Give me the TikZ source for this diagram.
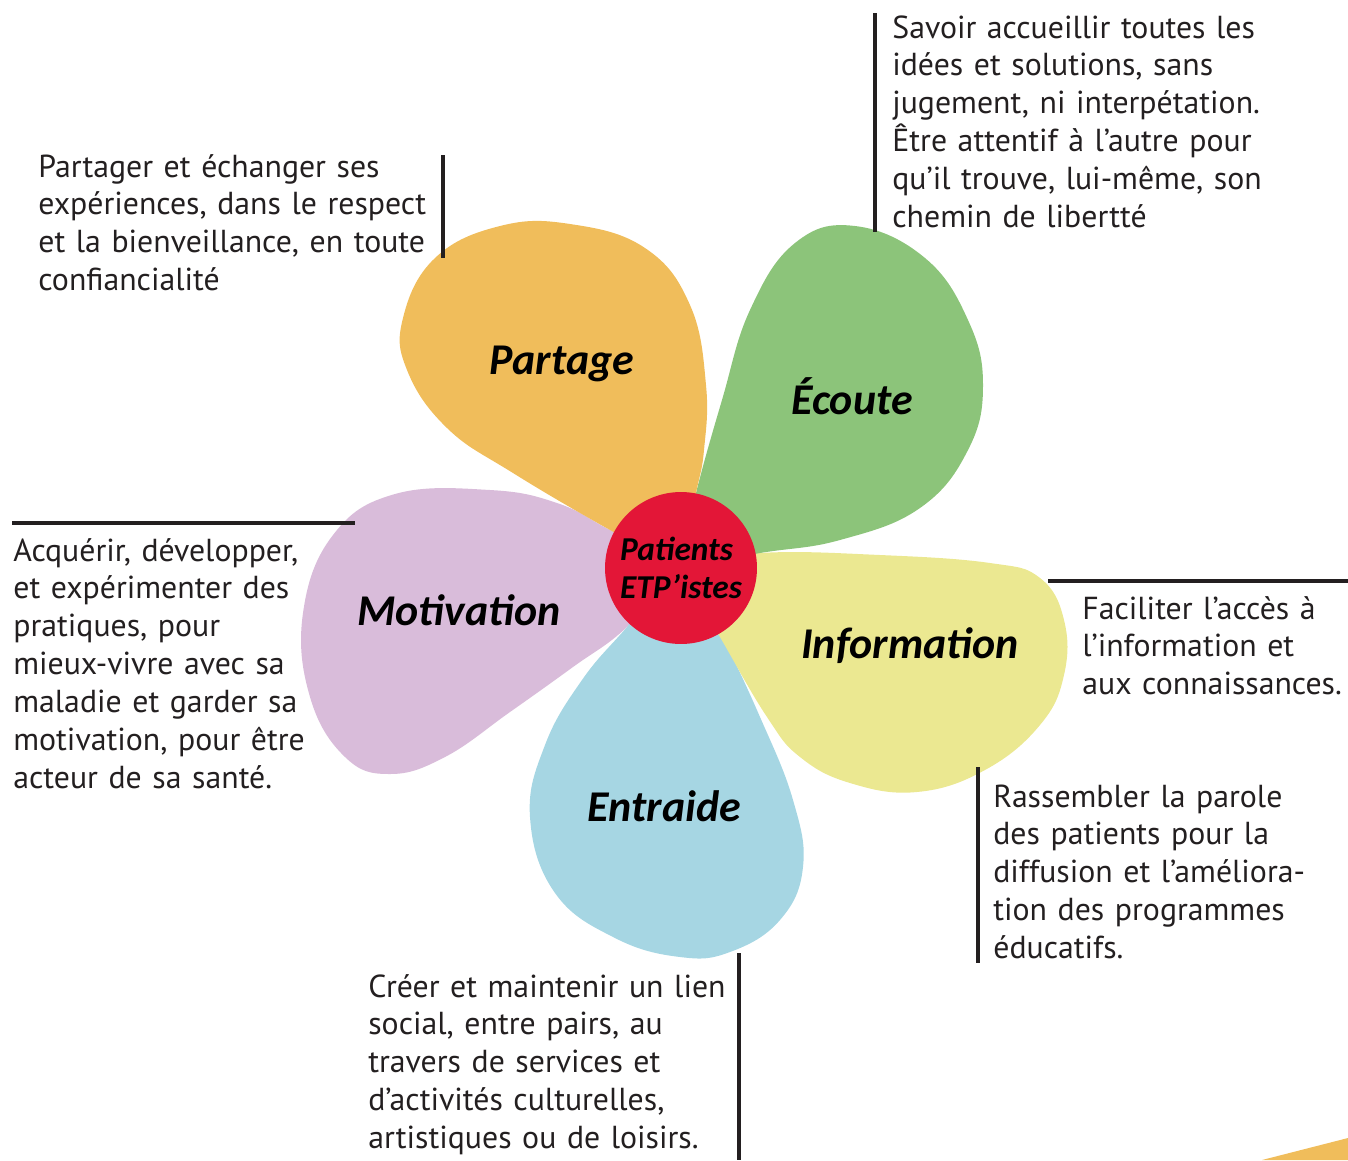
\documentclass[tikz,border=0pt]{standalone}
\usepackage{fontspec}
\setmainfont{PT Sans}
\newfontfamily\petalfont{Carlito}
\usetikzlibrary{positioning}
\tikzset{>=latex}
\definecolor{partagecol}{HTML}{F0BD5B}
\definecolor{ecoutecol}{HTML}{8CC47A}
\definecolor{infocol}{HTML}{EBE891}
\definecolor{entraidecol}{HTML}{A6D6E3}
\definecolor{motivcol}{HTML}{D9BCDA}
\definecolor{coeurred}{HTML}{E31637}
\definecolor{textgray}{HTML}{231F20}

\begin{document}
\begin{tikzpicture}[x=0.02cm,y=-0.02cm,
    petal label/.style={font=\petalfont\bfseries\itshape\fontsize{25}{29}\selectfont},
    blurb/.style={anchor=base west, inner sep=0pt, text width=9cm, align=left,
        text=textgray, font=\fontsize{18.1}{21.6}\selectfont},
    rule/.style={line width=2pt, textgray}]
    \useasboundingbox (0,0) rectangle (1348,1160);

    \fill[motivcol] plot[smooth cycle, tension=0.7] coordinates {(680,567) (610,530) (557,503) (490,490) (395,494) (333,535) (303,613) (310,697) (345,757) (390,774) (445,757) (510,712) (573,667) (627,627)};
    \fill[entraidecol] plot[smooth cycle, tension=0.7] coordinates {(680,567) (720,633) (760,717) (793,800) (803,867) (780,920) (730,952) (680,957) (615,938) (555,893) (530,817) (545,745) (582,680) (627,627)};
    \fill[infocol] plot[smooth cycle, tension=0.7] coordinates {(680,567) (760,553) (880,555) (990,563) (1040,578) (1064,620) (1064,675) (1040,725) (985,770) (917,792) (850,783) (800,757) (767,717) (720,637)};
    \fill[ecoutecol] plot[smooth cycle, tension=0.7] coordinates {(680,567) (696,493) (722,400) (750,310) (795,243) (855,226) (925,258) (968,320) (983,385) (968,450) (920,508) (840,540) (760,553)};
    \fill[partagecol] plot[smooth cycle, tension=0.7] coordinates {(680,567) (610,530) (513,473) (447,428) (407,370) (403,318) (435,258) (500,226) (570,224) (645,248) (690,305) (706,385) (704,450) (696,493)};

    \node[circle, fill=coeurred, minimum size=3.04cm, inner sep=0pt, align=left,
        font=\petalfont\bfseries\itshape\fontsize{19}{22}\selectfont] (coeur) at (681,568) {Patients\\ETP’istes};

    \node[petal label] (partage) at (562,364) {Partage};
    \node[petal label] (ecoute) at (852,396) {Écoute};
    \node[petal label] (info) at (910,646) {Information};
    \node[petal label] (entraide) at (664,806) {Entraide};
    \node[petal label] (motiv) at (459,610) {Motivation};

    \node[blurb] (txtpartage) at (38,177) {Partager et échanger ses\\expériences, dans le respect\\et la bienveillance, en toute\\confiancialité};
    \node[blurb] (txtecoute) at (892,38) {Savoir accueillir toutes les\\idées et solutions, sans\\jugement, ni interpétation.\\Être attentif à l’autre pour\\qu’il trouve, lui-même, son\\chemin de libertté};
    \node[blurb] (txtmotiv) at (13,561) {Acquérir, développer,\\et expérimenter des\\pratiques, pour\\mieux-vivre avec sa\\maladie et garder sa\\motivation, pour être\\acteur de sa santé.};
    \node[blurb] (txtinfo) at (1082,619) {Faciliter l’accès à\\l’information et\\aux connaissances.};
    \node[blurb] (txtparole) at (993,807) {Rassembler la parole\\des patients pour la\\diffusion et l’améliora-\\tion des programmes\\éducatifs.};
    \node[blurb] (txtentraide) at (368,997) {Créer et maintenir un lien\\social, entre pairs, au\\travers de services et\\d’activités culturelles,\\artistiques ou de loisirs.};

    \coordinate (partagetop) at (443,155);
    \coordinate (partagebot) at (443,258);
    \coordinate (ecoutetop) at (875,13);
    \coordinate (ecoutebot) at (875,232);
    \coordinate (motivleft) at (12,523);
    \coordinate (motivright) at (355,523);
    \coordinate (infoleft) at (1048,581);
    \coordinate (inforight) at (1348,581);
    \coordinate (paroletop) at (978,767);
    \coordinate (parolebot) at (978,963);
    \coordinate (entraidetop) at (739,953);
    \coordinate (entraidebot) at (739,1160);
    \draw[rule] (partagetop) -- (partagebot);
    \draw[rule] (ecoutetop) -- (ecoutebot);
    \draw[rule] (motivleft) -- (motivright);
    \draw[rule] (infoleft) -- (inforight);
    \draw[rule] (paroletop) -- (parolebot);
    \draw[rule] (entraidetop) -- (entraidebot);

    \fill[partagecol] (1262,1160) -- (1348,1138) -- (1348,1160) -- cycle;
\end{tikzpicture}
\end{document}
